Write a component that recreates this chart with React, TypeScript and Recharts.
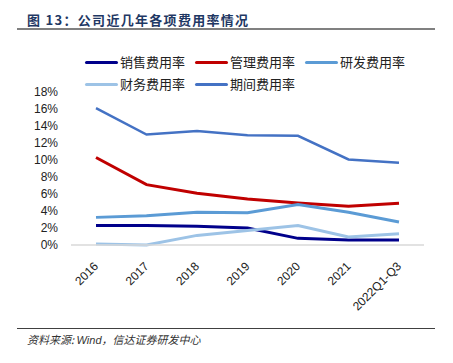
import { LineChart, Line, XAxis, YAxis } from "recharts";

const years = ["2016", "2017", "2018", "2019", "2020", "2021", "2022Q1-Q3"];
const sales = [2.28, 2.28, 2.2, 2.0, 0.78, 0.6, 0.6];
const admin = [10.3, 7.1, 6.1, 5.4, 4.95, 4.55, 4.9];
const rnd = [3.25, 3.45, 3.85, 3.8, 4.75, 3.85, 2.7];
const finance = [0.12, 0.0, 1.13, 1.7, 2.3, 0.94, 1.33];
const period = [16.1, 13.0, 13.4, 12.9, 12.85, 10.06, 9.67];
const yTicks = [0, 2, 4, 6, 8, 10, 12, 14, 16, 18];

const series = [
  { key: "sales", name: "销售费用率", color: "#00008B", width: 3 },
  { key: "admin", name: "管理费用率", color: "#C00000", width: 3 },
  { key: "rnd", name: "研发费用率", color: "#5B9BD5", width: 3 },
  { key: "finance", name: "财务费用率", color: "#9DC3E6", width: 3 },
  { key: "period", name: "期间费用率", color: "#4472C4", width: 2.5 },
];

const data = years.map((year, i) => ({
  year,
  sales: sales[i],
  admin: admin[i],
  rnd: rnd[i],
  finance: finance[i],
  period: period[i],
}));

const cjk = '"Noto Sans CJK SC", "Liberation Sans", sans-serif';

const XTick = ({ x, y, payload }: any) => (
  <text
    transform={`translate(${x + 3},${y + 14}) rotate(-45)`}
    textAnchor="end"
    fontSize={12}
    fill="#222"
    fontFamily='"Liberation Sans", Arial, sans-serif'
  >
    {payload.value}
  </text>
);

export default function App() {
  const legendPos = [
    { left: 85, top: 54 },
    { left: 195, top: 54 },
    { left: 305, top: 54 },
    { left: 85, top: 76 },
    { left: 195, top: 76 },
  ];
  return (
    <div
      style={{
        position: "absolute",
        left: 0,
        top: 0,
        width: 453,
        height: 363,
        background: "#fff",
        fontFamily: cjk,
      }}
    >
      <div
        style={{
          position: "absolute",
          left: 27,
          top: 10,
          fontSize: 13,
          fontWeight: 700,
          letterSpacing: 1.3,
          color: "#1F3864",
          whiteSpace: "nowrap",
        }}
      >
        图 13：公司近几年各项费用率情况
      </div>
      <div
        style={{
          position: "absolute",
          left: 17,
          top: 28,
          width: 418,
          height: 1.5,
          background: "#808080",
        }}
      />
      {series.map((s, i) => (
        <div
          key={s.key}
          style={{
            position: "absolute",
            left: legendPos[i].left,
            top: legendPos[i].top,
            display: "flex",
            alignItems: "center",
            fontSize: 13,
            color: "#222",
            whiteSpace: "nowrap",
            lineHeight: "16px",
          }}
        >
          <span
            style={{
              display: "inline-block",
              width: 33,
              height: 3,
              borderRadius: 2,
              background: s.color,
              marginRight: 2,
            }}
          />
          {s.name}
        </div>
      ))}
      <div style={{ position: "absolute", left: 0, top: 0 }}>
        <LineChart
          width={453}
          height={363}
          data={data}
          margin={{ top: 92, right: 29, bottom: 58, left: 0 }}
        >
          <XAxis
            dataKey="year"
            interval={0}
            padding={{ left: 25, right: 25 }}
            tickLine={false}
            axisLine={{ stroke: "#d9d9d9", strokeWidth: 1.5 }}
            tick={<XTick />}
            height={60}
          />
          <YAxis
            domain={[0, 18]}
            ticks={yTicks}
            interval={0}
            tickFormatter={(v) => `${v}%`}
            axisLine={false}
            tickLine={false}
            tickSize={0}
            tickMargin={13}
            width={71}
            tick={{
              fontSize: 12,
              fill: "#222",
              fontFamily: '"Liberation Sans", Arial, sans-serif',
            }}
          />
          {series.map((s) => (
            <Line
              key={s.key}
              dataKey={s.key}
              name={s.name}
              stroke={s.color}
              strokeWidth={s.width}
              dot={false}
              isAnimationActive={false}
            />
          ))}
        </LineChart>
      </div>
      <div
        style={{
          position: "absolute",
          left: 17,
          top: 328,
          width: 418,
          height: 1,
          background: "#404040",
        }}
      />
      <div
        style={{
          position: "absolute",
          left: 27,
          top: 331,
          fontSize: 11,
          fontStyle: "italic",
          color: "#333",
          whiteSpace: "nowrap",
        }}
      >
        资料来源: <span style={{ fontFamily: '"Liberation Sans", Arial' }}>Wind</span>，信达证券研发中心
      </div>
    </div>
  );
}
